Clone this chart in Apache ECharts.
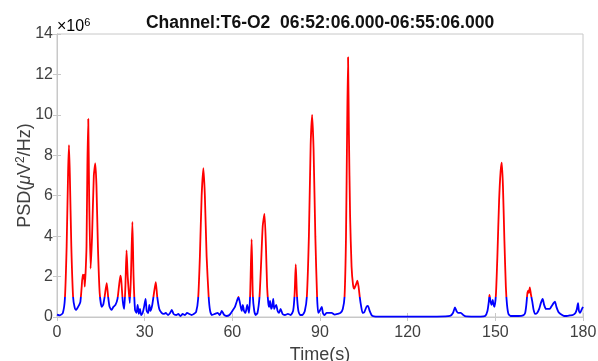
<!DOCTYPE html>
<html>
<head>
<meta charset="utf-8">
<script src="https://cdn.jsdelivr.net/npm/echarts@6/dist/echarts.min.js"></script>
<style>
    html, body { margin: 0; padding: 0; background: #fff; }
    #chart { width: 598px; height: 361px; }
</style>
</head>
<body>
<div id="chart"></div>
<script>
// time axis (s) and PSD values (x10^6 uV^2/Hz)
var timeSec = [
    0, 1, 2, 2.7, 3.3, 3.8, 4.1, 4.4, 4.9, 5.5, 6.0, 6.5, 7.0, 7.6, 8.0, 8.4, 8.8, 9.1, 9.3, 9.5,
    9.8, 10.1, 10.4, 10.7, 11.0, 11.5, 12.0, 12.6, 13.1, 13.5, 14.0, 14.6, 15.3, 15.8, 16.3, 17.0, 17.5, 18.0, 18.7, 19.3,
    20.0, 20.7, 21.2, 21.7, 22.0, 22.5, 23.0, 23.4, 23.8, 24.2, 24.9, 25.3, 25.8, 26.2, 26.7, 27.2, 27.6, 28.0, 28.4, 28.8,
    29.3, 29.8, 30.3, 30.7, 31.2, 31.6, 32.0, 32.6, 33.2, 33.8, 34.3, 35.0, 35.8, 36.5, 37.2, 38.0, 38.7, 39.3, 39.9, 40.8,
    41.5, 42.3, 43.0, 43.8, 44.5, 45.3, 46.0, 46.8, 47.6, 48.3, 48.9, 49.5, 50.1, 50.6, 51.2, 51.9, 52.4, 53.0, 54.0, 55.0,
    55.7, 56.4, 57.2, 58.0, 59.0, 60.0, 60.9, 61.6, 62.1, 62.6, 63.2, 63.6, 64.0, 64.5, 65.1, 65.7, 66.1, 66.6, 67.0, 67.5,
    68.0, 68.6, 69.3, 69.8, 70.4, 71.0, 71.5, 71.9, 72.3, 72.6, 72.9, 73.3, 73.6, 74.0, 74.3, 74.6, 75.0, 75.5, 76.0, 76.5,
    77.2, 78.0, 79.0, 80.0, 80.8, 81.3, 81.7, 82.1, 82.6, 83.2, 84.0, 84.8, 85.5, 86.2, 86.8, 87.3, 87.8, 88.4, 89.0, 89.4,
    89.9, 90.6, 91.0, 91.5, 92.3, 93.2, 94.0, 95.0, 96.0, 97.0, 97.8, 98.4, 98.9, 99.3, 99.6, 99.9, 100.3, 100.8, 101.3, 101.7,
    102.3, 102.8, 103.2, 103.6, 104.0, 104.6, 105.2, 105.9, 106.4, 107.0, 107.7, 108.5, 110, 120, 130, 134.5, 135.5, 136.2, 136.7, 137.3,
    138.2, 139.0, 140, 145, 146.5, 147.3, 147.8, 148.0, 148.3, 148.7, 149.1, 149.4, 149.7, 150.2, 150.7, 151.3, 151.8, 152.2, 152.6, 153.1,
    153.6, 154.0, 154.5, 155.2, 156.5, 158, 159.5, 160.2, 160.6, 161.0, 161.3, 161.5, 161.8, 162.2, 162.6, 163.1, 163.6, 164.3, 165.0, 165.6,
    166.2, 166.7, 167.3, 167.9, 168.6, 169.3, 170.0, 170.4, 170.9, 171.6, 172.3, 173.5, 174.5, 175.5, 176.5, 177.4, 177.9, 178.3, 178.6, 179.0,
    179.5, 180
];
var psdValues = [
    0.12, 0.08, 0.2, 0.9, 3.5, 7.2, 8.5, 7.0, 3.5, 1.0, 0.5, 0.35, 0.45, 0.6, 0.75, 1.4, 2.1, 1.9, 2.1, 1.5,
    2.25, 3.5, 7.5, 9.8, 6.0, 2.4, 4.0, 7.0, 7.6, 6.5, 3.5, 1.2, 0.5, 0.6, 1.0, 1.67, 1.0, 0.5, 0.35, 0.5,
    0.6, 0.9, 1.5, 2.05, 1.8, 0.8, 0.4, 1.5, 3.3, 2.0, 0.7, 2.0, 4.7, 2.0, 0.35, 0.2, 0.6, 0.15, 0.4, 0.1,
    0.2, 0.5, 0.9, 0.3, 0.2, 0.6, 0.3, 0.6, 1.2, 1.72, 1.0, 0.4, 0.2, 0.15, 0.2, 0.1, 0.2, 0.35, 0.15, 0.1,
    0.15, 0.05, 0.15, 0.1, 0.2, 0.15, 0.1, 0.15, 0.25, 0.9, 3.0, 6.0, 7.36, 6.0, 3.0, 1.0, 0.3, 0.1, 0.15, 0.2,
    0.1, 0.3, 0.1, 0.05, 0.1, 0.3, 0.5, 0.8, 1.0, 0.7, 0.3, 0.6, 0.3, 0.2, 0.6, 0.2, 1.1, 3.85, 1.1, 0.3,
    0.1, 0.2, 1.0, 2.5, 4.5, 5.1, 3.5, 1.5, 0.7, 0.5, 0.8, 0.4, 0.5, 0.9, 0.4, 0.5, 0.6, 0.3, 0.2, 0.4,
    0.15, 0.1, 0.15, 0.1, 0.3, 1.1, 2.6, 1.1, 0.3, 0.1, 0.1, 0.3, 1.0, 4.0, 8.5, 10.0, 8.3, 4.0, 1.0, 0.2,
    0.3, 0.5, 0.2, 0.1, 0.2, 0.2, 0.2, 0.12, 0.15, 0.2, 0.4, 1.0, 4.0, 9.5, 12.85, 9.0, 5.0, 2.5, 1.6, 1.4,
    1.6, 1.8, 1.5, 1.0, 0.6, 0.2, 0.25, 0.5, 0.55, 0.3, 0.08, 0.03, 0.02, 0.02, 0.02, 0.05, 0.2, 0.48, 0.3, 0.2,
    0.2, 0.1, 0.03, 0.02, 0.05, 0.3, 0.8, 1.09, 0.8, 0.6, 0.85, 0.6, 0.5, 1.1, 3.0, 5.8, 7.2, 7.64, 6.5, 3.8,
    1.5, 0.6, 0.15, 0.05, 0.05, 0.05, 0.08, 0.2, 0.6, 1.2, 1.3, 1.2, 1.47, 1.1, 0.8, 0.35, 0.15, 0.2, 0.4, 0.7,
    0.89, 0.6, 0.4, 0.4, 0.4, 0.55, 0.7, 0.76, 0.5, 0.25, 0.15, 0.05, 0.05, 0.08, 0.1, 0.2, 0.4, 0.68, 0.3, 0.2,
    0.35, 0.5
];
// above this the trace is drawn red
var threshold = 1;

var chart = echarts.init(document.getElementById('chart'));

var lineColor = '#c8c8c8';
var labelColor = '#404040';
var fontName = 'Liberation Sans, Arial, sans-serif';

var seriesData = timeSec.map(function (t, i) {
    return [t, psdValues[i]];
});

chart.setOption({
    animation: false,
    grid: {
        left: 57,
        right: 15,
        top: 34,
        bottom: 44,
        outerBoundsMode: 'none',
        show: true,
        borderColor: lineColor,
        borderWidth: 1
    },
    graphic: [
        {
            type: 'text',
            x: 320,
            y: 14,
            style: {
                text: 'Channel:T6-O2  06:52:06.000-06:55:06.000',
                font: 'bold 17.5px ' + fontName,
                fill: '#111',
                align: 'center'
            }
        },
        {
            type: 'text',
            x: 57,
            y: 17,
            style: {
                rich: {
                    base: { fontSize: 16, fontFamily: fontName, color: labelColor },
                    sup: { fontSize: 11, fontFamily: fontName, color: labelColor, verticalAlign: 'top', padding: [0, 0, 8, 0] }
                },
                text: '{base|×10}{sup|6}'
            }
        }
    ],
    visualMap: {
        show: false,
        type: 'piecewise',
        dimension: 1,
        seriesIndex: 0,
        pieces: [
            { gte: 0, lt: threshold, color: '#0000ff' },
            { gte: threshold, lte: 14, color: '#ff0000' }
        ],
        outOfRange: { color: '#0000ff' }
    },
    xAxis: [
        {
            type: 'value',
            min: 0,
            max: 180,
            interval: 30,
            name: 'Time(s)',
            nameLocation: 'middle',
            nameGap: 29,
            nameMoveOverlap: false,
            nameTextStyle: { fontFamily: fontName, fontSize: 18, color: labelColor },
            axisLine: { show: true, lineStyle: { color: lineColor } },
            axisTick: { show: true, inside: true, length: 4, lineStyle: { color: lineColor } },
            axisLabel: { fontFamily: fontName, fontSize: 16, color: labelColor, margin: 8 },
            splitLine: { show: false }
        },
        {
            type: 'value',
            position: 'top',
            min: 0,
            max: 180,
            interval: 30,
            axisLine: { show: true, lineStyle: { color: lineColor } },
            axisTick: { show: true, inside: true, length: 4, lineStyle: { color: lineColor } },
            axisLabel: { show: false },
            splitLine: { show: false }
        }
    ],
    yAxis: [
        {
            type: 'value',
            min: 0,
            max: 14,
            interval: 2,
            name: 'PSD({mu|μ}V{sup|2}/Hz)',
            nameLocation: 'middle',
            nameGap: 22,
            nameMoveOverlap: false,
            nameTextStyle: {
                fontFamily: fontName,
                fontSize: 18,
                color: labelColor,
                rich: {
                    mu: { fontSize: 18, fontFamily: fontName, fontStyle: 'italic', color: labelColor },
                    sup: { fontSize: 12, fontFamily: fontName, color: labelColor, verticalAlign: 'top', padding: [0, 0, 8, 0] }
                }
            },
            axisLine: { show: true, lineStyle: { color: lineColor } },
            axisTick: { show: true, inside: true, length: 4, lineStyle: { color: lineColor } },
            axisLabel: { fontFamily: fontName, fontSize: 16, color: labelColor, margin: 4 },
            splitLine: { show: false }
        },
        {
            type: 'value',
            position: 'right',
            min: 0,
            max: 14,
            interval: 2,
            axisLine: { show: true, lineStyle: { color: lineColor } },
            axisTick: { show: true, inside: true, length: 4, lineStyle: { color: lineColor } },
            axisLabel: { show: false },
            splitLine: { show: false }
        }
    ],
    series: [
        {
            type: 'line',
            data: seriesData,
            showSymbol: false,
            smooth: 0.2,
            lineStyle: { width: 1.8 }
        }
    ]
});

window.addEventListener('resize', function () {
    chart.resize();
});
</script>
</body>
</html>
